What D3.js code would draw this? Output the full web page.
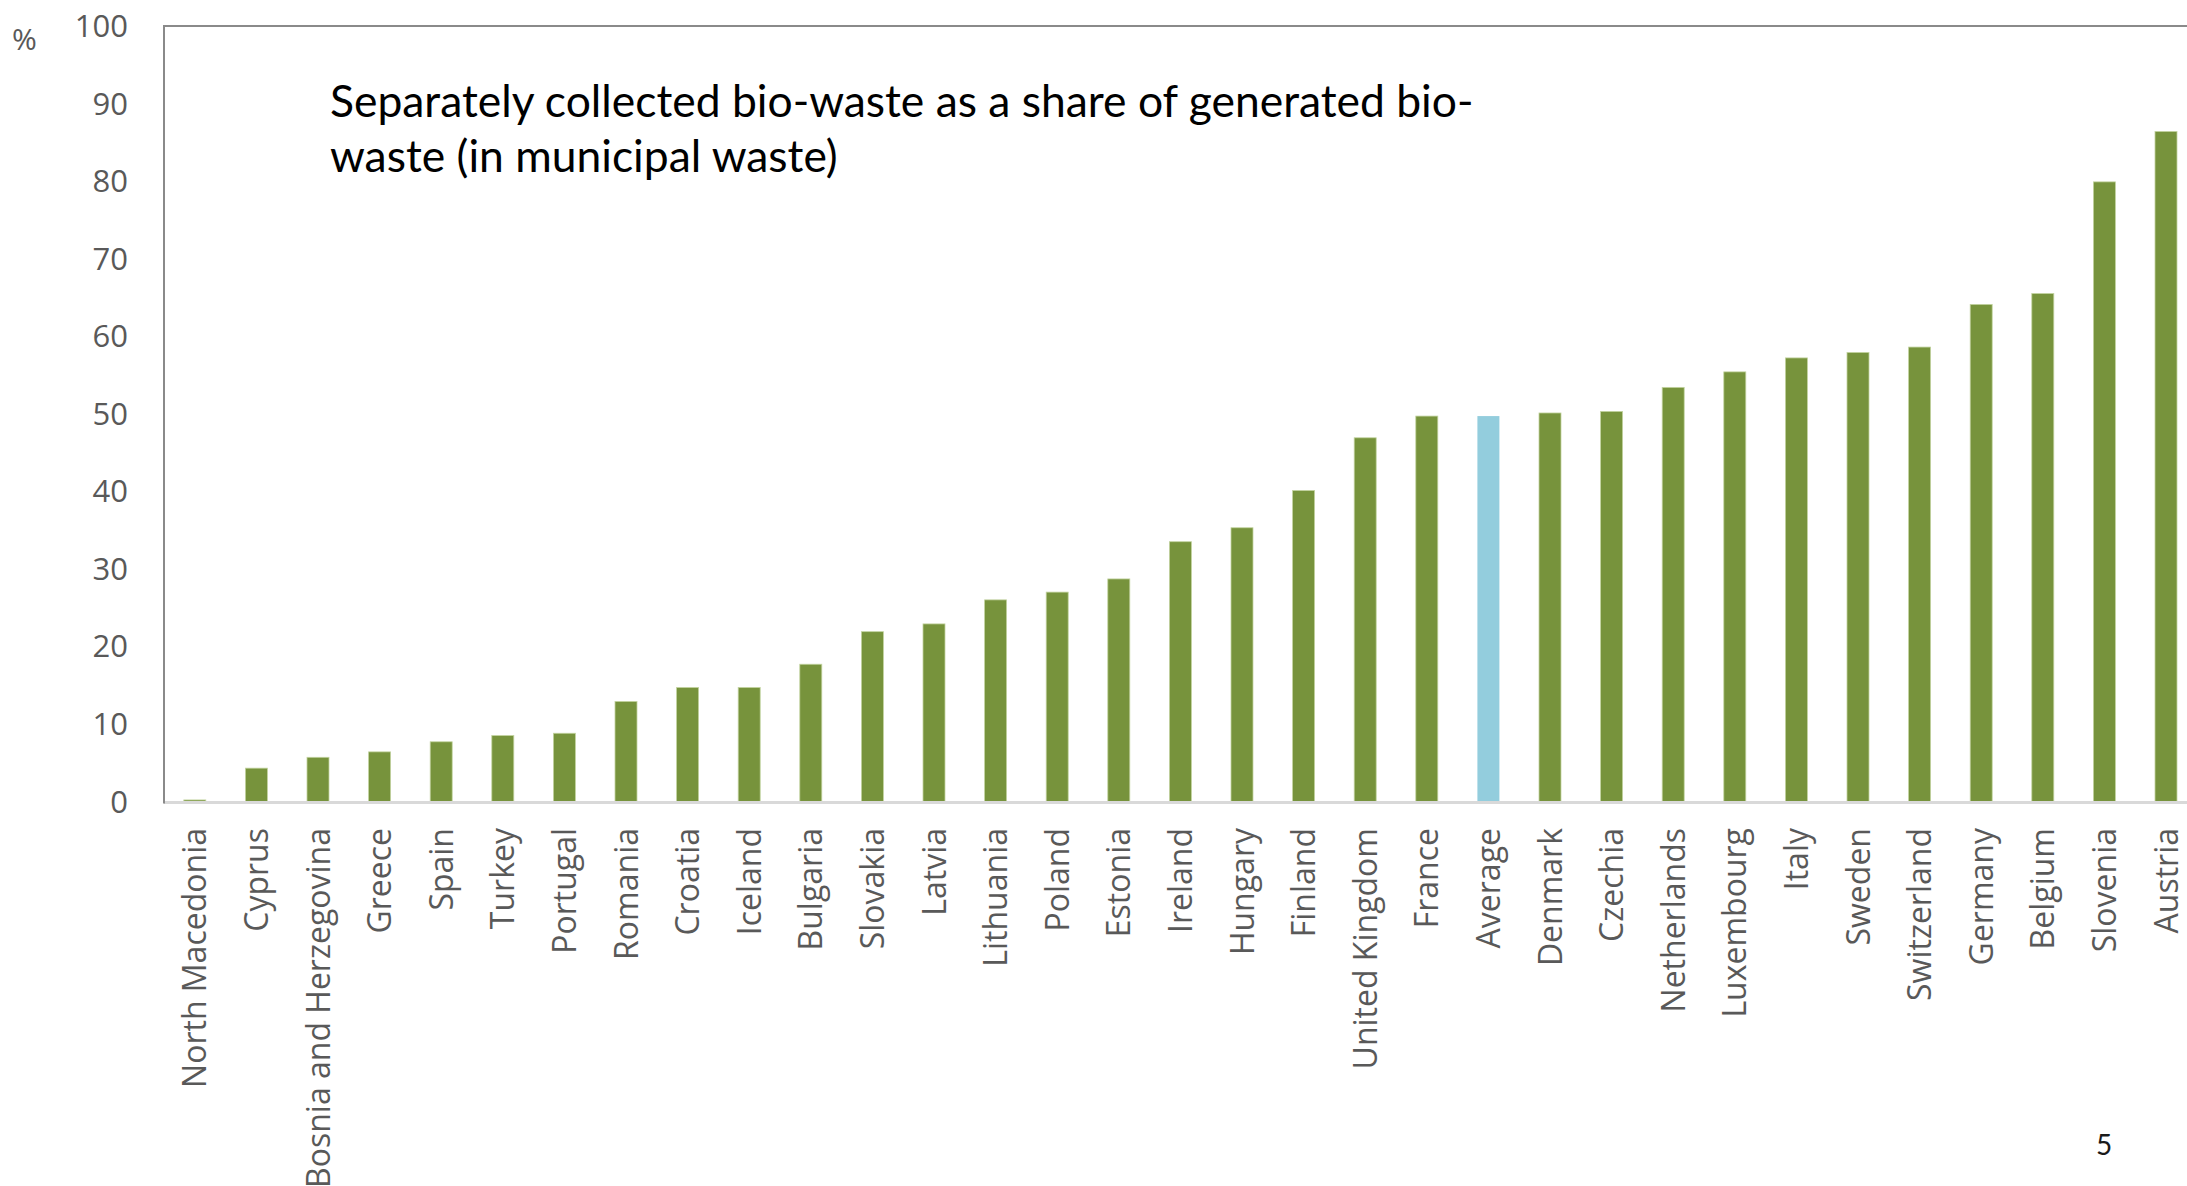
<!DOCTYPE html>
<html>
<head>
<meta charset="utf-8">
<script src="https://cdn.jsdelivr.net/npm/d3@7"></script>
<style>
  html, body { margin: 0; padding: 0; background: #ffffff; overflow: hidden; }
  svg { display: block; }
</style>
</head>
<body>
<svg id="chart" width="2187" height="1186"></svg>
<script>
const categories = ["North Macedonia","Cyprus","Bosnia and Herzegovina","Greece","Spain","Turkey","Portugal","Romania","Croatia","Iceland","Bulgaria","Slovakia","Latvia","Lithuania","Poland","Estonia","Ireland","Hungary","Finland","United Kingdom","France","Average","Denmark","Czechia","Netherlands","Luxembourg","Italy","Sweden","Switzerland","Germany","Belgium","Slovenia","Austria"];
const values = [0.2,4.3,5.7,6.4,7.7,8.5,8.8,12.9,14.7,14.7,17.7,21.9,22.9,26.0,27.0,28.7,33.5,35.3,40.1,46.9,49.7,49.7,50.1,50.3,53.4,55.4,57.2,57.9,58.6,64.1,65.5,79.9,86.4];
const yTicks = [0,10,20,30,40,50,60,70,80,90,100];
const highlight = "Average";
const titleLines = ["Separately collected bio-waste as a share of generated bio-", "waste (in municipal waste)"];
const unitLabel = "%";
const pageNumber = "5";

(function () {
const data = categories.map((c, i) => ({ name: c, value: values[i] }));

const svg = d3.select("#chart");
const plotLeft = 164, plotTop = 26, plotBottom = 801.5;
const step = 61.6;
const plotRight = plotLeft + categories.length * step;

const x = d3.scaleBand().domain(categories).range([plotLeft, plotRight]).paddingInner(0.643).paddingOuter(0.3215);
const y = d3.scaleLinear().domain([0, 100]).range([plotBottom, plotTop]);

// bars
svg.append("g").selectAll("rect").data(data).join("rect")
  .attr("x", d => x(d.name))
  .attr("width", x.bandwidth())
  .attr("y", d => y(d.value))
  .attr("height", d => y(0) - y(d.value))
  .attr("fill", d => d.name === highlight ? "#93CDDD" : "#77933C")
  .attr("stroke", d => d.name === highlight ? "none" : "#c2d39f")
  .attr("stroke-width", 0.8);

// baseline (category axis line)
svg.append("line")
  .attr("x1", plotLeft).attr("x2", 2187)
  .attr("y1", y(0) + 1).attr("y2", y(0) + 1)
  .attr("stroke", "#d9d9d9").attr("stroke-width", 3);

// top border
svg.append("line")
  .attr("x1", plotLeft - 1).attr("x2", 2187)
  .attr("y1", y(100)).attr("y2", y(100))
  .attr("stroke", "#8a8a8a").attr("stroke-width", 2);

// left value axis line
svg.append("line")
  .attr("x1", plotLeft).attr("x2", plotLeft)
  .attr("y1", y(100)).attr("y2", y(0) + 2)
  .attr("stroke", "#8a8a8a").attr("stroke-width", 2);

// y axis tick labels
const yAxis = d3.axisLeft(y).tickValues(yTicks).tickSize(0).tickPadding(0).tickFormat(d3.format("d"));
const yg = svg.append("g").attr("transform", "translate(128,0)").call(yAxis);
yg.select(".domain").remove();
yg.selectAll("text")
  .attr("font-family", "'Open Sans', sans-serif")
  .attr("font-size", 31)
  .attr("fill", "#595959")
  .attr("dy", "0.34em");

// % unit label
svg.append("text")
  .attr("x", 12).attr("y", 50)
  .attr("font-family", "'Open Sans', sans-serif")
  .attr("font-size", 30)
  .attr("fill", "#595959")
  .text(unitLabel);

// x labels (rotated)
const xAxis = d3.axisBottom(x).tickSize(0).tickPadding(0);
const xg = svg.append("g").call(xAxis);
xg.select(".domain").remove();
xg.selectAll(".tick").attr("transform", d => `translate(${x(d) + x.bandwidth() / 2},828)`);
xg.selectAll("text")
  .attr("transform", "rotate(-90)")
  .attr("text-anchor", "end")
  .attr("x", 0).attr("y", 0)
  .attr("dy", "0.36em")
  .attr("font-family", "'Open Sans', sans-serif")
  .attr("font-size", 32)
  .attr("fill", "#595959");

// title
const title = svg.append("g");
const t1 = title.append("text")
  .attr("x", 330).attr("y", 117)
  .attr("font-family", "Lato, 'Open Sans', sans-serif")
  .attr("font-size", 44)
  .attr("fill", "#000000")
  .text(titleLines[0]);
const w = t1.node().getComputedTextLength();
const fs = 44 * 1144 / w;
t1.attr("font-size", fs);
title.append("text")
  .attr("x", 330).attr("y", 172)
  .attr("font-family", "Lato, 'Open Sans', sans-serif")
  .attr("font-size", fs)
  .attr("fill", "#000000")
  .text(titleLines[1]);

// page number
svg.append("text")
  .attr("x", 2096).attr("y", 1155)
  .attr("font-family", "Lato, sans-serif")
  .attr("font-size", 28)
  .attr("fill", "#1a1a1a")
  .text(pageNumber);
})();
</script>
</body>
</html>
